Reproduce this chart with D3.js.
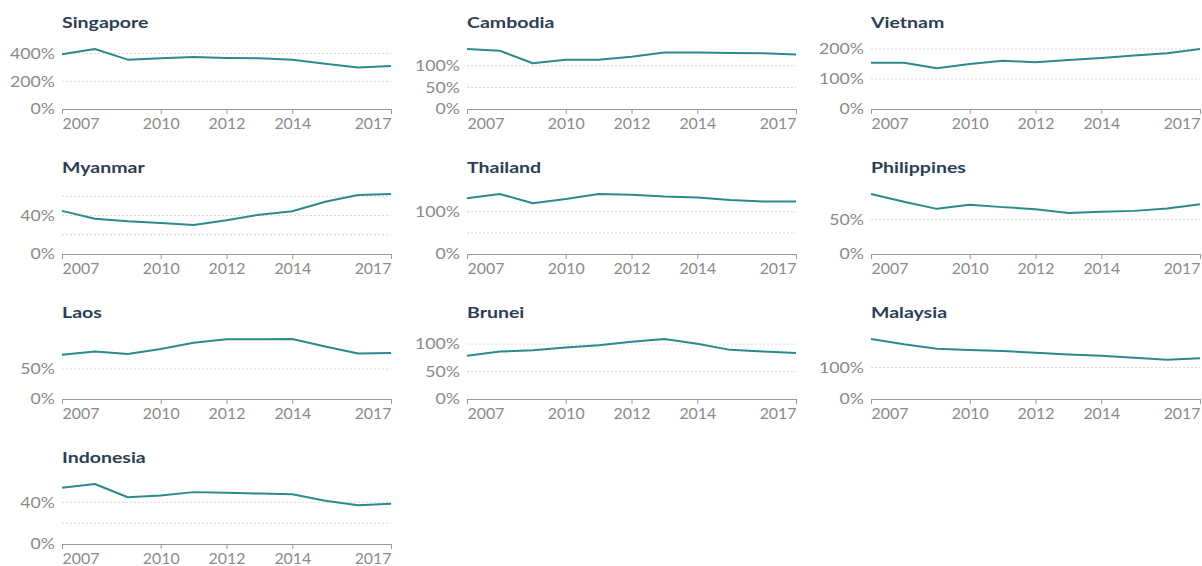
<!DOCTYPE html>
<html>
<head>
<meta charset="utf-8">
<script src="https://cdn.jsdelivr.net/npm/d3@7"></script>
<style>
  body { margin: 0; background: #fff; }
  svg text { font-family: Lato, "Noto Sans", sans-serif; }
</style>
</head>
<body>
<div id="chart"></div>
<script>

// Small multiples: one teal line per country, 2007 - 2017

var years = [2007, 2008, 2009, 2010, 2011, 2012, 2013, 2014, 2015, 2016, 2017];
var yearTicks = [2007, 2010, 2012, 2014, 2017];

var countries = ["Singapore", "Cambodia", "Vietnam", "Myanmar", "Thailand",
                 "Philippines", "Laos", "Brunei", "Malaysia", "Indonesia"];

// values in percent
var singapore   = [395, 433, 356, 366, 375, 368, 366, 356, 327, 300, 310];
var cambodia    = [139, 135, 106, 114, 114, 121, 131, 131, 130, 129, 126];
var vietnam     = [154, 154, 136, 150, 161, 156, 163, 170, 178, 186, 200];
var myanmar     = [44.9, 36.8, 34, 32.3, 30.2, 35.1, 41, 44.6, 54.4, 61.4, 62.5];
var thailand    = [132, 142, 120, 130, 142, 140, 136, 134, 128, 124, 124];
var philippines = [86.4, 75.2, 65, 70.9, 67.5, 64.6, 59.2, 60.7, 62.1, 65.5, 71.8];
var laos        = [73.9, 79, 75, 83.5, 93.8, 99.5, 99.5, 100, 87.5, 76, 76.7];
var brunei      = [79, 86.4, 88.9, 93.8, 98.1, 104.3, 109.3, 100.6, 89.5, 86.4, 84];
var malaysia    = [191, 174, 160, 156, 153, 147, 142, 138, 131, 125, 130];
var indonesia   = [54, 57.6, 44.9, 46.5, 49.8, 49.1, 48.5, 47.8, 41.6, 37.1, 38.7];

var series = [singapore, cambodia, vietnam, myanmar, thailand,
              philippines, laos, brunei, malaysia, indonesia];

// dotted grid lines and the labels shown on each y axis
var gridTicks = [[200, 400], [50, 100], [100, 200], [20, 40, 60], [50, 100],
                 [50], [50], [50, 100], [100], [20, 40]];
var labelTicks = [[0, 200, 400], [0, 50, 100], [0, 100, 200], [0, 40], [0, 100],
                  [0, 50], [0, 50], [0, 50, 100], [0, 100], [0, 40]];

var width = 1202, height = 566;
var colX = [62, 467, 871];
var plotW = 329;
var rowH = 145;
var plotTop = 49, plotBase = 109;

var svg = d3.select("#chart").append("svg")
    .attr("width", width)
    .attr("height", height);

countries.forEach(function(name, i) {
    var col = i % 3, row = Math.floor(i / 3);
    var g = svg.append("g")
        .attr("transform", "translate(" + colX[col] + "," + (row * rowH) + ")");

    var values = series[i];
    var x = d3.scaleLinear().domain([2007, 2017]).range([0, plotW]);
    var y = d3.scaleLinear().domain([0, d3.max(values)]).range([plotBase, plotTop]);

    // title (text is a bit stretched sideways in the original)
    g.append("text")
        .attr("transform", "translate(0,28) scale(1.22,1)")
        .attr("fill", "#2c3e56")
        .attr("font-size", 16)
        .attr("font-weight", "bold")
        .text(name);

    // grid
    g.selectAll(".grid")
        .data(gridTicks[i])
        .enter().append("line")
        .attr("x1", 0).attr("x2", plotW)
        .attr("y1", function(d) { return y(d); })
        .attr("y2", function(d) { return y(d); })
        .attr("stroke", "#d8d8d8")
        .attr("stroke-width", 1)
        .attr("stroke-dasharray", "2,2");

    // y labels
    g.selectAll(".ylab")
        .data(labelTicks[i])
        .enter().append("text")
        .attr("transform", function(d) { return "translate(-7," + y(d) + ") scale(1.18,1)"; })
        .attr("dy", "0.35em")
        .attr("text-anchor", "end")
        .attr("fill", "#8a8a8a")
        .attr("font-size", 15)
        .text(function(d) { return d + "%"; });

    // x axis
    var axis = g.append("g")
        .attr("transform", "translate(0," + plotBase + ")")
        .call(d3.axisBottom(x).tickValues(yearTicks).tickFormat(d3.format("d"))
              .tickSize(5).tickSizeOuter(5).tickPadding(4));
    axis.select(".domain").attr("stroke", "#9a9a9a");
    axis.selectAll(".tick line").attr("stroke", "#9a9a9a");
    axis.selectAll(".tick text")
        .attr("fill", "#8a8a8a")
        .attr("font-size", 15)
        .attr("font-family", "Lato, 'Noto Sans', sans-serif")
        .attr("transform", "scale(1.06,1)")
        .attr("text-anchor", function(d) {
            if (d == 2007) return "start";
            if (d == 2017) return "end";
            return "middle";
        });

    // the line
    var line = d3.line()
        .x(function(d, j) { return x(years[j]); })
        .y(function(d) { return y(d); });

    g.append("path")
        .datum(values)
        .attr("d", line)
        .attr("fill", "none")
        .attr("stroke", "#2a8a8c")
        .attr("stroke-width", 2)
        .attr("stroke-linejoin", "round");
});
</script>
</body>
</html>
